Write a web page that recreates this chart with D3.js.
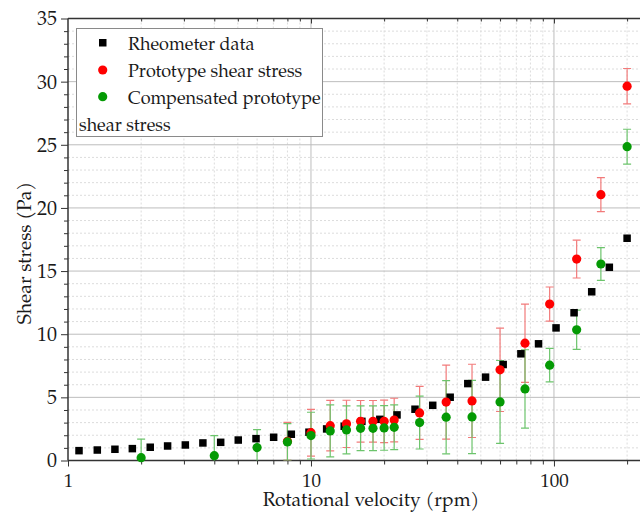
<!DOCTYPE html>
<html>
<head>
<meta charset="utf-8">
<script src="https://cdn.jsdelivr.net/npm/d3@7"></script>
<style>
  body { margin: 0; background: #fff; }
  svg text { font-family: "P052", "URW Palladio L", "TeX Gyre Pagella", "Palatino Linotype", "Book Antiqua", "Palatino",
    "Liberation Serif", "DejaVu Serif", serif !important; }
</style>
</head>
<body>
<div id="chart"></div>
<script>
// Rheometer reference measurements (rpm, Pa)
const rheoX = [1.11, 1.32, 1.56, 1.84, 2.18, 2.57, 3.04, 3.59, 4.25, 5.02, 5.94, 7.02, 8.30, 9.81,
  11.6, 13.7, 16.2, 19.2, 22.6, 26.8, 31.7, 37.4, 44.2, 52.3, 61.8, 73.1, 86.4, 102, 121, 143, 169, 200];
const rheoY = [0.78, 0.83, 0.89, 0.94, 1.05, 1.15, 1.23, 1.39, 1.44, 1.62, 1.73, 1.84, 2.08, 2.24,
  2.5, 2.71, 3.1, 3.26, 3.61, 4.06, 4.37, 5.01, 6.09, 6.6, 7.6, 8.45, 9.24, 10.5, 11.7, 13.36, 15.3, 17.6];

// Prototype shear stress
const protoX = [8, 10, 12, 14, 16, 18, 20, 22, 28, 36, 46, 60, 76, 96, 124, 156, 200];
const protoY = [1.52, 2.2, 2.76, 2.9, 3.1, 3.1, 3.1, 3.2, 3.77, 4.63, 4.72, 7.18, 9.29, 12.39, 15.95, 21.05, 29.64];
const protoErr = [1.5, 1.85, 2.0, 1.87, 1.65, 1.65, 1.68, 1.73, 2.1, 2.93, 2.9, 3.3, 3.1, 1.35, 1.5, 1.35, 1.4];

// Compensated prototype shear stress
const compX = [2, 4, 6, 8, 10, 12, 14, 16, 18, 20, 22, 28, 36, 46, 60, 76, 96, 124, 156, 200];
const compY = [0.22, 0.38, 1.02, 1.47, 1.97, 2.34, 2.42, 2.55, 2.55, 2.58, 2.63, 3.0, 3.43, 3.45, 4.64, 5.67, 7.55, 10.35, 15.56, 24.85];
const compErr = [1.48, 1.59, 1.42, 1.45, 1.85, 2.06, 1.9, 1.77, 1.77, 1.77, 1.77, 2.09, 2.9, 2.9, 3.28, 3.1, 1.33, 1.55, 1.3, 1.38];

const yTicks = [0, 5, 10, 15, 20, 25, 30, 35];
const xTicks = [1, 10, 100];
const legendLabels = ["Rheometer data", "Prototype shear stress", "Compensated prototype", "shear stress"];

const W = 640, H = 512;
const pL = 68, pR = 640, pT = 18.5, pB = 460.5;

const svg = d3.select("#chart").append("svg")
    .attr("width", W).attr("height", H);

const x = d3.scaleLog().domain([1, 226]).range([pL, pR]);
const y = d3.scaleLinear().domain([0, 35]).range([pB, pT]);

// minor values
const xMinor = [];
[1, 10, 100].forEach(d => { for (let k = 2; k <= 9; k++) if (d * k < 226) xMinor.push(d * k); });
const yMinor = d3.range(0, 36).filter(v => v % 5 !== 0);

// grid
const grid = svg.append("g");
grid.selectAll(".gxm").data(xMinor).enter().append("line")
    .attr("x1", d => x(d)).attr("x2", d => x(d)).attr("y1", pT).attr("y2", pB)
    .attr("stroke", "#dcdcdc").attr("stroke-dasharray", "2,2");
grid.selectAll(".gym").data(yMinor).enter().append("line")
    .attr("x1", pL).attr("x2", pR).attr("y1", d => y(d)).attr("y2", d => y(d))
    .attr("stroke", "#dcdcdc").attr("stroke-dasharray", "2,2");
grid.selectAll(".gx").data([10, 100]).enter().append("line")
    .attr("x1", d => x(d)).attr("x2", d => x(d)).attr("y1", pT).attr("y2", pB)
    .attr("stroke", "#bdbdbd");
grid.selectAll(".gy").data(yTicks.slice(1, -1)).enter().append("line")
    .attr("x1", pL).attr("x2", pR).attr("y1", d => y(d)).attr("y2", d => y(d))
    .attr("stroke", "#bdbdbd");

// axes
const axX = svg.append("g").attr("transform", `translate(0,${pB})`)
    .call(d3.axisBottom(x).tickValues(xTicks).tickFormat(d3.format("d")).tickSize(6).tickPadding(7));
svg.append("g").attr("transform", `translate(0,${pB})`)
    .call(d3.axisBottom(x).tickValues(xMinor).tickFormat("").tickSize(4))
    .select(".domain").remove();
const axY = svg.append("g").attr("transform", `translate(${pL},0)`)
    .call(d3.axisLeft(y).tickValues(yTicks).tickSize(7).tickPadding(4));
svg.append("g").attr("transform", `translate(${pL},0)`)
    .call(d3.axisLeft(y).tickValues(yMinor).tickFormat("").tickSize(4))
    .select(".domain").remove();
// top axis with inward ticks
svg.append("g").attr("transform", `translate(0,${pT})`)
    .call(d3.axisBottom(x).tickValues(xTicks.filter(d => d > 1)).tickFormat("").tickSize(5))
    .select(".domain").remove();
svg.append("g").attr("transform", `translate(0,${pT})`)
    .call(d3.axisBottom(x).tickValues(xMinor).tickFormat("").tickSize(3))
    .select(".domain").remove();
svg.append("line").attr("x1", pL).attr("x2", pR).attr("y1", pT).attr("y2", pT)
    .attr("stroke", "#333").attr("stroke-width", 1.5);

svg.selectAll(".domain").attr("stroke", "#333").attr("stroke-width", 1.5);
svg.selectAll(".tick line").attr("stroke", "#333");
axX.selectAll("text").attr("font-size", 19).attr("fill", "#1a1a1a");
axY.selectAll("text").attr("font-size", 20).attr("fill", "#1a1a1a");
axX.select(".domain").attr("d", `M${pL},0H${pR}`);
axY.select(".domain").attr("d", `M0,${pB}V${pT}`);

// axis titles
svg.append("text").attr("x", 371).attr("y", 505.5).attr("text-anchor", "middle")
    .attr("font-size", 19.2).attr("fill", "#1a1a1a").text("Rotational velocity (rpm)");
svg.append("text").attr("transform", "translate(31,253) rotate(-90)").attr("text-anchor", "middle")
    .attr("font-size", 19.2).attr("fill", "#1a1a1a").text("Shear stress (Pa)");

// error bars (clipped to plot)
svg.append("clipPath").attr("id", "plotclip").append("rect")
    .attr("x", pL).attr("y", pT).attr("width", pR - pL).attr("height", pB - pT);

function errorBars(xs, ys, es, color) {
  const g = svg.append("g").attr("clip-path", "url(#plotclip)")
      .attr("stroke", color).attr("stroke-width", 1.2);
  const data = xs.map((d, i) => ({ x: d, y: ys[i], e: es[i] }));
  g.selectAll(".v").data(data).enter().append("line")
      .attr("x1", d => x(d.x)).attr("x2", d => x(d.x))
      .attr("y1", d => y(d.y - d.e)).attr("y2", d => y(d.y + d.e));
  g.selectAll(".t").data(data).enter().append("line")
      .attr("x1", d => x(d.x) - 4).attr("x2", d => x(d.x) + 4)
      .attr("y1", d => y(d.y + d.e)).attr("y2", d => y(d.y + d.e));
  g.selectAll(".b").data(data).enter().append("line")
      .attr("x1", d => x(d.x) - 4).attr("x2", d => x(d.x) + 4)
      .attr("y1", d => y(d.y - d.e)).attr("y2", d => y(d.y - d.e));
}
errorBars(protoX, protoY, protoErr, "#f27a7a");
errorBars(compX, compY, compErr, "#6cc46c");

// markers
svg.append("g").selectAll("rect").data(rheoX).enter().append("rect")
    .attr("x", (d, i) => x(d) - 3.75).attr("y", (d, i) => y(rheoY[i]) - 3.75)
    .attr("width", 7.5).attr("height", 7.5).attr("fill", "#000");
svg.append("g").selectAll("circle").data(protoX).enter().append("circle")
    .attr("cx", d => x(d)).attr("cy", (d, i) => y(protoY[i])).attr("r", 4.6).attr("fill", "#ff0000");
svg.append("g").selectAll("circle").data(compX).enter().append("circle")
    .attr("cx", d => x(d)).attr("cy", (d, i) => y(compY[i])).attr("r", 4.6).attr("fill", "#049a04");

// legend
const lg = svg.append("g");
lg.append("rect").attr("x", 76.5).attr("y", 28.5).attr("width", 246).attr("height", 108)
    .attr("fill", "#fff").attr("stroke", "#8a8a8a");
lg.append("rect").attr("x", 99).attr("y", 39).attr("width", 7.5).attr("height", 7.5).attr("fill", "#000");
lg.append("circle").attr("cx", 102.7).attr("cy", 70).attr("r", 4.6).attr("fill", "#ff0000");
lg.append("circle").attr("cx", 102.7).attr("cy", 96.7).attr("r", 4.6).attr("fill", "#049a04");
const ly = [50, 77, 104, 131];
const lx = [128, 128, 128, 79];
legendLabels.forEach((t, i) => {
  lg.append("text").attr("x", lx[i]).attr("y", ly[i]).attr("font-size", 18)
    .attr("fill", "#1a1a1a").text(t);
});
</script>
</body>
</html>
